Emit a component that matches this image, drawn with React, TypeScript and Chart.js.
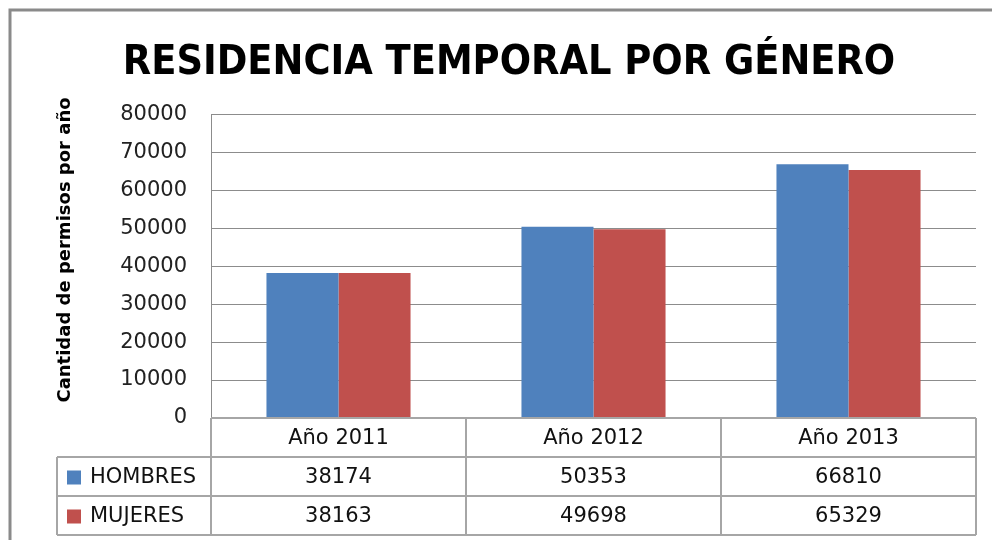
import React, { useEffect, useRef } from "react";
import { Chart, registerables } from "chart.js";

Chart.register(...registerables);

const categories = ["Año 2011", "Año 2012", "Año 2013"];
const seriesNames = ["HOMBRES", "MUJERES"];
const hombres = [38174, 50353, 66810];
const mujeres = [38163, 49698, 65329];
const seriesColors = ["#4F81BD", "#C0504D"];
const titleText = "RESIDENCIA TEMPORAL POR GÉNERO";
const yAxisTitle = "Cantidad de permisos por año";

const TEXT_FONT = "'DejaVu Sans', sans-serif";
const TABLE_LINE = "#a6a6a6";
const GRID = "#8c8c8c";

const tablePlugin = {
  id: "dataTable",
  afterDraw(chart: any) {
    const ctx = chart.ctx;
    const area = chart.chartArea;
    const xs = chart.scales.x;
    const series = [hombres, mujeres];
    ctx.save();

    // outer chart border (top + left only)
    ctx.strokeStyle = "#8a8a8a";
    ctx.lineWidth = 3;
    ctx.beginPath();
    ctx.moveTo(10, chart.height);
    ctx.lineTo(10, 10);
    ctx.lineTo(chart.width - 1, 10);
    ctx.stroke();

    // y axis title
    ctx.save();
    ctx.translate(65, 250);
    ctx.rotate(-Math.PI / 2);
    ctx.fillStyle = "#000";
    ctx.font = "bold 18px " + TEXT_FONT;
    ctx.textAlign = "center";
    ctx.textBaseline = "middle";
    ctx.fillText(yAxisTitle, 0, 0);
    ctx.restore();

    // data table
    const rowH = 39;
    const top = area.bottom;
    const legendLeft = 57;
    const n = categories.length;
    const catW = (area.right - area.left) / n;
    ctx.strokeStyle = TABLE_LINE;
    ctx.lineWidth = 2;
    ctx.beginPath();
    ctx.moveTo(area.left, top);
    ctx.lineTo(area.right, top);
    for (let r = 1; r <= 3; r++) {
      ctx.moveTo(legendLeft, top + r * rowH);
      ctx.lineTo(area.right, top + r * rowH);
    }
    ctx.moveTo(legendLeft, top + rowH);
    ctx.lineTo(legendLeft, top + 3 * rowH);
    for (let i = 0; i <= n; i++) {
      const bx = i === n ? area.right : xs.getPixelForValue(i) - catW / 2;
      ctx.moveTo(bx, top);
      ctx.lineTo(bx, top + 3 * rowH);
    }
    ctx.stroke();

    ctx.fillStyle = "#111";
    ctx.font = "21px " + TEXT_FONT;
    ctx.textAlign = "center";
    ctx.textBaseline = "middle";
    categories.forEach((c, i) => {
      ctx.fillText(c, xs.getPixelForValue(i), top + rowH / 2 + 1);
    });
    series.forEach((vals, s) => {
      const cy = top + rowH * (s + 1) + rowH / 2 + 1;
      vals.forEach((v, i) => {
        ctx.fillStyle = "#111";
        ctx.textAlign = "center";
        ctx.fillText(String(v), xs.getPixelForValue(i), cy);
      });
      ctx.fillStyle = seriesColors[s];
      ctx.fillRect(67, cy - 7, 14, 14);
      ctx.fillStyle = "#111";
      ctx.textAlign = "left";
      ctx.fillText(seriesNames[s], 90, cy);
    });
    ctx.restore();
  },
};

export default function App() {
  const ref = useRef<HTMLCanvasElement | null>(null);
  useEffect(() => {
    if (!ref.current) return;
    const chart = new Chart(ref.current, {
      type: "bar",
      data: {
        labels: categories,
        datasets: [
          {
            label: seriesNames[0],
            data: hombres,
            backgroundColor: seriesColors[0],
            borderWidth: 0,
            categoryPercentage: 0.565,
            barPercentage: 1,
          },
          {
            label: seriesNames[1],
            data: mujeres,
            backgroundColor: seriesColors[1],
            borderWidth: 0,
            categoryPercentage: 0.565,
            barPercentage: 1,
          },
        ],
      },
      options: {
        responsive: false,
        animation: false,
        layout: { padding: { top: 0, left: 42, right: 17, bottom: 0 } },
        plugins: {
          legend: { display: false },
          tooltip: { enabled: false },
          title: {
            display: true,
            text: titleText,
            color: "#000",
            font: {
              family: "'DejaVu Sans Condensed', 'DejaVu Sans', sans-serif",
              size: 41,
              weight: "bold",
            },
            padding: { top: 39, bottom: 26 },
          },
        },
        scales: {
          x: {
            ticks: { display: false },
            grid: { display: false },
            border: { display: false },
            afterFit: (s: any) => {
              s.height = 122;
            },
          },
          y: {
            min: 0,
            max: 80000,
            ticks: {
              stepSize: 10000,
              color: "#222",
              font: { family: TEXT_FONT, size: 21 },
              padding: 24,
              callback: (v: any) => String(v),
            },
            grid: { color: GRID, lineWidth: 1, drawTicks: false },
            border: { color: GRID, width: 1 },
            afterFit: (s: any) => {
              s.width = 169;
            },
          },
        },
      },
      plugins: [tablePlugin],
    });
    return () => chart.destroy();
  }, []);
  return (
    <div style={{ position: "absolute", left: 0, top: 0, width: 993, height: 540, background: "#fff" }}>
      <canvas ref={ref} width={993} height={540} style={{ width: 993, height: 540, display: "block" }} />
    </div>
  );
}
